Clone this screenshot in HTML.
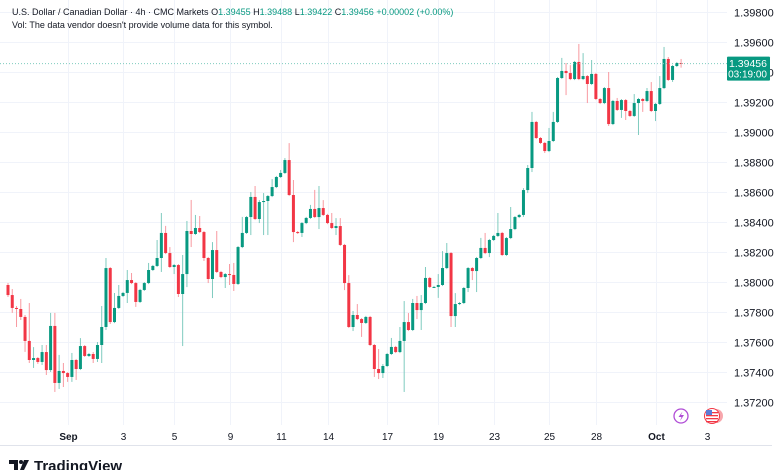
<!DOCTYPE html>
<html><head><meta charset="utf-8">
<style>
html,body{margin:0;padding:0;background:#fff;width:780px;height:470px;overflow:hidden;font-family:"Liberation Sans",sans-serif;}
svg text{font-family:"Liberation Sans",sans-serif;}
</style></head>
<body>
<svg id="chart" width="780" height="470" viewBox="0 0 780 470" xmlns="http://www.w3.org/2000/svg">
  <g id="grid"></g>
  <g id="candles"></g>
  <g id="yaxis"></g>
  <g id="xaxis"></g>
  <line x1="0" y1="445.5" x2="772" y2="445.5" stroke="#e0e3eb" stroke-width="1"/>
  <text x="12" y="15" font-size="9" fill="#131722">U.S. Dollar / Canadian Dollar · 4h · CMC Markets  <tspan fill="#131722">O</tspan><tspan fill="#089981">1.39455</tspan> <tspan fill="#131722">H</tspan><tspan fill="#089981">1.39488</tspan> <tspan fill="#131722">L</tspan><tspan fill="#089981">1.39422</tspan> <tspan fill="#131722">C</tspan><tspan fill="#089981">1.39456</tspan> <tspan fill="#089981">+0.00002 (+0.00%)</tspan></text>
  <text x="12" y="28" font-size="9" fill="#131722">Vol: The data vendor doesn't provide volume data for this symbol.</text>
  <g>
    <circle cx="681" cy="416" r="7" fill="#fff" stroke="#b04dd6" stroke-width="1.3"/>
    <path d="M682.5 411.5 L678.5 417 L681.5 417 L680 421 L684 415 L681 415 Z" fill="#b04dd6"/>
  </g>
  <g>
    <circle cx="716" cy="416" r="7" fill="#f7a6ac"/>
    <circle cx="712" cy="416" r="7.5" fill="#fff" stroke="#f23645" stroke-width="1"/>
    <rect x="706" y="412" width="12" height="1.3" fill="#f23645"/>
    <rect x="706" y="415" width="12" height="1.3" fill="#f23645"/>
    <rect x="706" y="418" width="12" height="1.3" fill="#f23645"/>
    <rect x="706" y="421" width="12" height="1.3" fill="#f23645"/>
    <rect x="706" y="410" width="6" height="5" fill="#5b7bd6"/>
  </g>
  <g>
    <path d="M9 460 h9 v10 h-4 v-6 h-5 z" fill="#131722"/>
    <circle cx="21" cy="462" r="2" fill="#131722"/>
    <path d="M24 460 h5 l-5 10 h-4 z" fill="#131722"/>
    <text x="34" y="471" font-size="15" font-weight="bold" fill="#131722">TradingView</text>
  </g>
</svg>
<script>
// ---- data (USD/CAD 4h) ----
const firstOpen = 1.37980;
const closes = [1.37913,1.37827,1.37820,1.37767,1.37607,1.37480,1.37493,1.37467,1.37533,1.37413,
1.37707,1.37327,1.37407,1.37393,1.37367,1.37480,1.37420,1.37573,1.37507,1.37520,
1.37487,1.37580,1.37700,1.38093,1.37733,1.37827,1.37907,1.37927,1.38013,1.37993,
1.37867,1.37947,1.37993,1.38080,1.38107,1.38160,1.38327,1.38193,1.38100,1.38113,
1.37920,1.38053,1.38340,1.38320,1.38360,1.38333,1.38160,1.38020,1.38213,1.38067,
1.38033,1.38053,1.38047,1.37987,1.38233,1.38327,1.38433,1.38567,1.38420,1.38533,
1.38540,1.38573,1.38633,1.38700,1.38727,1.38813,1.38580,1.38333,1.38327,1.38393,
1.38427,1.38487,1.38433,1.38493,1.38447,1.38393,1.38360,1.38373,1.38247,1.37993,
1.37700,1.37780,1.37753,1.37727,1.37767,1.37580,1.37420,1.37393,1.37440,1.37520,
1.37567,1.37533,1.37607,1.37733,1.37680,1.37860,1.37813,1.37860,1.38027,1.37967,
1.37967,1.37980,1.38093,1.38193,1.37773,1.37853,1.37860,1.37960,1.38093,1.38073,
1.38160,1.38227,1.38193,1.38280,1.38307,1.38327,1.38180,1.38293,1.38353,1.38433,
1.38447,1.38613,1.38760,1.39067,1.38960,1.38927,1.38873,1.38940,1.39067,1.39360,
1.39407,1.39393,1.39353,1.39467,1.39353,1.39373,1.39320,1.39387,1.39220,1.39193,
1.39293,1.39053,1.39207,1.39147,1.39213,1.39140,1.39107,1.39193,1.39220,1.39207,
1.39273,1.39140,1.39187,1.39293,1.39487,1.39347,1.39440,1.39460,1.39456];
// wick lengths beyond the body, in pips (0.0001)
const wickUp = [1.3,4,1.3,6.7,1.3,25.3,7.3,0.7,4.7,4.7,8.7,8.7,10.7,5.3,0.7,4.7,0.7,5.3,0.7,0.7,
1.3,2,14,6.7,0.7,10,7.3,0.7,6.7,4.7,0.7,0.7,0.7,4.7,0.7,12,13.3,4.7,4,0.7,
0.7,12.7,6.7,20.7,8.7,8,0.7,0.7,5.3,12.7,0.7,0.7,6.7,8,0.7,10.7,0.7,3.3,7.3,1.3,
5.3,0.7,5.3,0.7,2,1.3,11.3,10,0.7,0.7,0.7,2.7,12.7,14.7,5.3,0.7,6.7,5.3,5.3,0.7,
5.3,2.7,7.3,0.7,0.7,0.7,0.7,13.3,1.3,0.7,6,0.7,9.3,14,6,2.7,4.7,5.3,7.3,0.7,
0.7,7.3,11.3,6.7,0.7,7.3,0.7,0.7,0.7,0.7,0.7,6.7,10,0.7,0.7,13.3,0.7,0.7,14.7,0.7,
0.7,1.3,2,6.7,0.7,0.7,0.7,8.7,6.7,0.7,8.7,5.3,5.3,0.7,12,15.3,0.7,9.3,0.7,0.7,
0.7,10.7,0.7,2,0.7,0.7,0.7,6,0.7,0.7,2,6,0.7,8,8,1.3,0.7,0.7,2.7];
const wickDn = [1.3,3.3,12,2,7.3,2,5.3,1.3,2,3.3,1.3,6,4,9.3,3.3,3.3,7.3,0.7,0.7,0.7,
2.7,2,12,2,1.3,0.7,0.7,0.7,6.7,0.7,3.3,0.7,0.7,0.7,0.7,0.7,9.3,0.7,0.7,4.7,
2,34.7,8.7,8.7,0.7,0.7,2,2.7,12.7,0.7,0.7,7.3,6.7,4.7,0.7,0.7,0.7,12,0.7,2.7,
22,22.7,0.7,0.7,0.7,0.7,0.7,6.7,0.7,2.7,0.7,0.7,0.7,8,0.7,0.7,0.7,4.7,0.7,4.7,
0.7,2.7,0.7,9.3,0.7,0.7,5.3,4,3.3,0.7,0.7,0.7,0.7,34,0.7,0.7,6,13.3,0.7,0.7,
0.7,7.3,0.7,0.7,7.3,7.3,0.7,0.7,2.7,6,14,0.7,0.7,2.7,0.7,0.7,0.7,0.7,0.7,0.7,
0.7,1.3,2,2.7,0.7,0.7,1.3,0.7,0.7,0.7,0.7,14.7,0.7,0.7,0.7,0.7,12.7,0.7,0.7,0.7,
0.7,1.3,0.7,0.7,5.3,6,0.7,0.7,21.3,7.3,0.7,0.7,6.7,0.7,0.7,0.7,1.3,0.7,2.7];
const priceTicks = [1.3980,1.3960,1.3940,1.3920,1.3900,1.3880,1.3860,1.3840,1.3820,1.3800,1.3780,1.3760,1.3740,1.3720];
const timeTickLabels = ["Sep","3","5","9","11","14","17","19","23","25","28","Oct","3"];
const timeTickIndex = [14,27,39,52,64,75,89,101,114,127,138,152,164];
const lastPrice = 1.39456;
const countdown = "03:19:00";

// ---- axis functions ----
const NS = "http://www.w3.org/2000/svg";
const plotRight = 727;
function yScale(p){ return 12 + (1.3980 - p) * 15000; }
function xScale(i){ return 8 + i * 4.26; }
function mk(tag, attrs, parent){ const e=document.createElementNS(NS,tag); for(const k in attrs) e.setAttribute(k,attrs[k]); parent.appendChild(e); return e; }

const grid=document.getElementById('grid'), cg=document.getElementById('candles'),
      ya=document.getElementById('yaxis'), xa=document.getElementById('xaxis');

priceTicks.forEach(p=>{
  const y=Math.round(yScale(p))+0.5;
  const l=mk('line',{x1:0,x2:plotRight,y1:y,y2:y,stroke:'#f0f3fa','stroke-width':1},grid);
  
  
  const t=mk('text',{x:734,y:y+4,'font-size':11,fill:'#131722'},ya);
  
  
  t.textContent=p.toFixed(5);
});
timeTickLabels.forEach((lab,k)=>{
  const x=Math.round(xScale(timeTickIndex[k]))+0.5;
  const l=mk('line',{x1:x,x2:x,y1:0,y2:425,stroke:'#f0f3fa','stroke-width':1},grid);
  
  
  const t=mk('text',{x:x,y:440,'font-size':10,fill:'#131722','text-anchor':'middle','font-weight':(lab==="Sep"||lab==="Oct")?'bold':'normal'},xa);
  
  
  t.textContent=lab;
});

let open=firstOpen;
closes.forEach((c,i)=>{
  const up=c>=open, col=up?'#089981':'#f23645', wcol=up?'#7fcbbf':'#f899a0';
  const top=Math.max(open,c), bot=Math.min(open,c);
  const hi=top+wickUp[i]/10000, lo=bot-wickDn[i]/10000;
  const x=xScale(i);
  const w=mk('line',{x1:x,x2:x,y1:yScale(hi),y2:yScale(lo),stroke:wcol,'stroke-width':1},cg);
  
  
  const yt=yScale(top), h=Math.max(1,yScale(bot)-yt);
  const b=mk('rect',{x:x-1.5,y:yt,width:3,height:h,fill:col},cg);
  
  
  open=c;
});

const ly=yScale(lastPrice);
const pl=mk('line',{x1:0,x2:plotRight,y1:ly,y2:ly,stroke:'#7fcbbf','stroke-width':1,'stroke-dasharray':'1 2'},cg);


const badge=mk('rect',{x:727,y:ly-7,width:43,height:24,fill:'#089981',rx:1},ya);


const bt=mk('text',{x:767,y:ly+3.5,'font-size':10.5,fill:'#fff','text-anchor':'end'},ya);


bt.textContent=lastPrice.toFixed(5);
const ct=mk('text',{x:767,y:ly+14,'font-size':10,fill:'#fff','text-anchor':'end'},ya);


ct.textContent=countdown;
</script>
</body></html>
